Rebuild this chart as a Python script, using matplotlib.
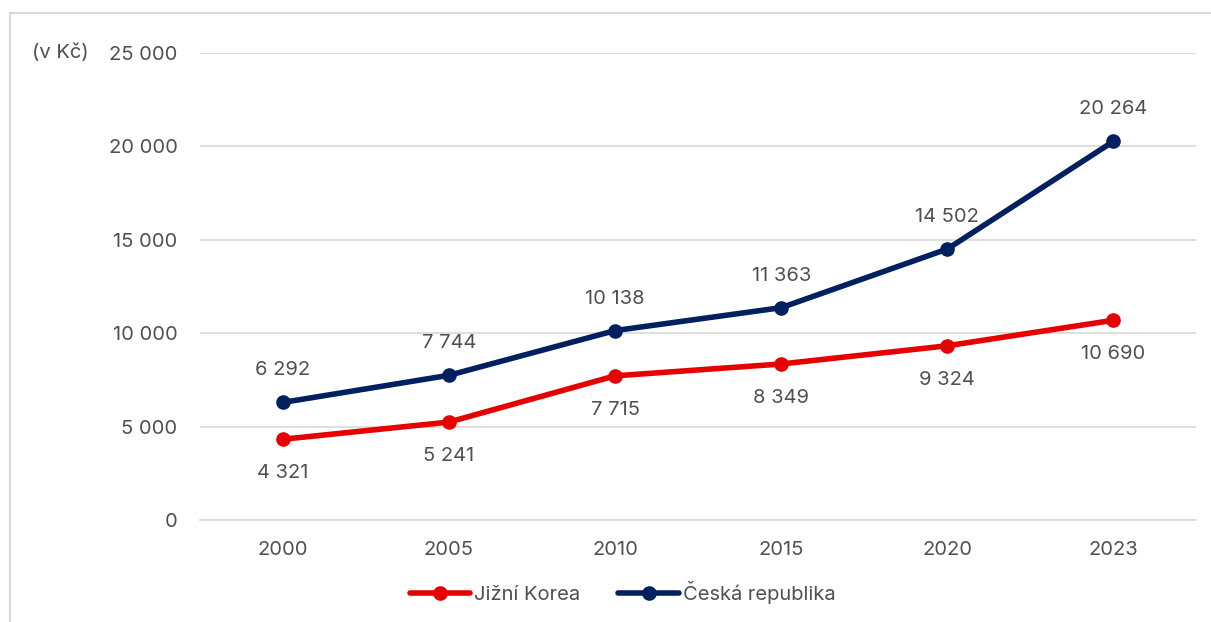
import matplotlib.pyplot as plt
from matplotlib.lines import Line2D

years = ['2000', '2005', '2010', '2015', '2020', '2023']
korea = [4321, 5241, 7715, 8349, 9324, 10690]
czech = [6292, 7744, 10138, 11363, 14502, 20264]

RED = '#E60000'
NAVY = '#002060'
TXT = '#505050'
FS = 14.5

plt.rcParams['font.family'] = ['Inter', 'DejaVu Sans']


def fmt(v):
    return f'{v:,}'.replace(',', ' ')


def main():
    fig = plt.figure(figsize=(12.11, 6.22), dpi=100)
    ax = fig.add_axes([0.165, 0.164, 0.823, 0.751])

    x = range(len(years))
    ax.plot(x, korea, color=RED, lw=4, marker='o', ms=9.5, label='Jižní Korea',
            solid_capstyle='round', zorder=3)
    ax.plot(x, czech, color=NAVY, lw=4, marker='o', ms=9.5, label='Česká republika',
            solid_capstyle='round', zorder=3)

    for i, v in enumerate(czech):
        ax.annotate(fmt(v), (i, v), xytext=(0, 23), textcoords='offset points',
                    ha='center', va='center', fontsize=FS, color=TXT)
    for i, v in enumerate(korea):
        ax.annotate(fmt(v), (i, v), xytext=(0, -24.5), textcoords='offset points',
                    ha='center', va='center', fontsize=FS, color=TXT)

    ax.set_xlim(-0.5, len(years) - 0.5)
    ax.set_ylim(0, 25000)
    ax.set_yticks(range(0, 25001, 5000))
    ax.set_yticklabels([fmt(v) for v in range(0, 25001, 5000)])
    ax.set_xticks(list(x))
    ax.set_xticklabels(years)
    ax.tick_params(axis='both', length=0, labelsize=FS, labelcolor=TXT)
    ax.tick_params(axis='y', pad=16)
    ax.tick_params(axis='x', pad=15)
    ax.grid(axis='y', color='#D9D9D9', lw=1.2)
    ax.set_axisbelow(True)
    for s in ax.spines.values():
        s.set_visible(False)
    ax.spines['bottom'].set_visible(True)
    ax.spines['bottom'].set_color('#D9D9D9')
    ax.spines['bottom'].set_linewidth(1.2)

    fig.text(32 / 1211, 1 - 53 / 622, '(v Kč)', fontsize=FS, color=TXT, va='center')

    # chart frame
    fig.add_artist(Line2D([10 / 1211, 10 / 1211], [0, 1 - 13 / 622], color='#D9D9D9',
                          lw=1.5, transform=fig.transFigure))
    fig.add_artist(Line2D([10 / 1211, 1], [1 - 13 / 622, 1 - 13 / 622], color='#D9D9D9',
                          lw=1.5, transform=fig.transFigure))

    fig.legend(loc='center', bbox_to_anchor=(0.514, 1 - 593 / 622), ncol=2, frameon=False,
               fontsize=FS, labelcolor=TXT, handlelength=3.0, columnspacing=1.9,
               handletextpad=0.2)

    fig.savefig('out.png', dpi=100)


if __name__ == '__main__':
    main()
